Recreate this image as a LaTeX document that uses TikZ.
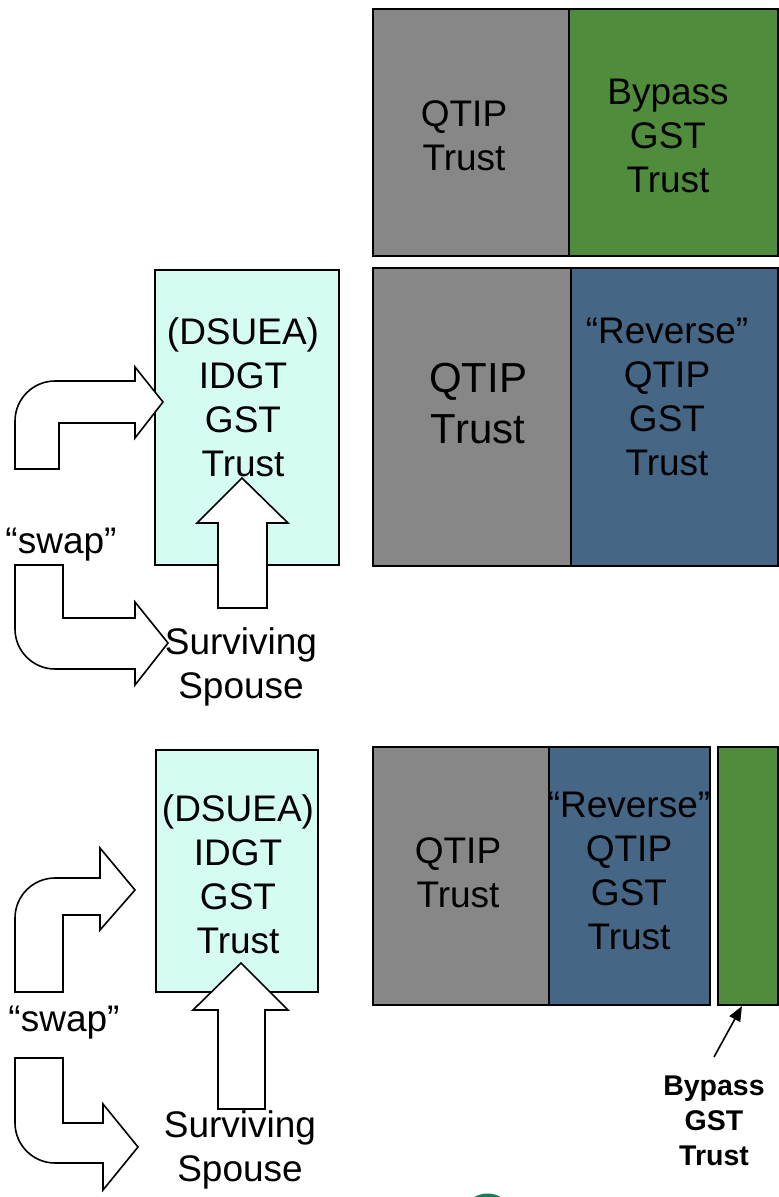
\documentclass[tikz,border=0pt]{standalone}
\usepackage{fontspec}
\setmainfont{Liberation Sans}
\usetikzlibrary{arrows.meta}
\definecolor{qgray}{HTML}{878787}
\definecolor{bgreen}{HTML}{4F8D3C}
\definecolor{rblue}{HTML}{466686}
\definecolor{mint}{HTML}{D4FCF2}
\definecolor{logogreen}{HTML}{1E7A5A}
\begin{document}
\begin{tikzpicture}[x=1pt,y=-1pt,
  box/.style={draw=black,line width=1.6pt,rectangle,inner sep=0pt},
  blockarrow/.style={draw=black,line width=1.6pt,fill=white,line join=miter},
  lbl/.style={inner sep=0pt,align=center,font=\fontsize{37}{44}\selectfont},
  biglbl/.style={inner sep=0pt,align=center,font=\fontsize{42}{51}\selectfont},
  smalllbl/.style={inner sep=0pt,align=center,font=\fontsize{28.5}{35}\selectfont\bfseries}]
\useasboundingbox (0,0) rectangle (779,1197);
% ---------- top row
\node[box,fill=qgray,minimum width=196pt,minimum height=247pt] (q1) at (471,132.5) {};
\node[box,fill=bgreen,minimum width=209pt,minimum height=247pt] (b1) at (673.5,132.5) {};
\node[lbl] (q1t) at (464,136) {QTIP\\Trust};
\node[lbl] (b1t) at (668,136) {Bypass\\GST\\Trust};
% ---------- second row
\node[box,fill=qgray,minimum width=198pt,minimum height=298pt] (q2) at (472,417) {};
\node[box,fill=rblue,minimum width=207pt,minimum height=298pt] (r2) at (674.5,417) {};
\node[biglbl] (q2t) at (478,404) {QTIP\\Trust};
\node[lbl] (r2t) at (667,397) {“Reverse”\\QTIP\\GST\\Trust};
% ---------- group 1
\node[box,fill=mint,minimum width=184pt,minimum height=295pt] (c1) at (247,417.5) {};
\draw[blockarrow] (15,469) -- (15,421) .. controls (15,399) and (33,381) .. (55,381)
  -- (135,381) -- (135,367) -- (163,402) -- (135,438) -- (135,423) -- (59,423) -- (59,469) -- cycle;
\draw[blockarrow] (15,565) -- (63,565) -- (63,618) -- (135,618) -- (135,602) -- (168,643)
  -- (135,685) -- (135,669) -- (55,669) .. controls (33,669) and (15,651) .. (15,629) -- cycle;
\draw[blockarrow] (218,608) -- (218,523) -- (197,523) -- (242,478) -- (288,523) -- (267,523) -- (267,608) -- cycle;
\node[lbl] (c1t) at (243,397) {(DSUEA)\\IDGT\\GST\\Trust};
\node[lbl] (sw1) at (61,545) {“swap”};
\node[lbl] (sp1) at (241,667) {Surviving\\Spouse};
% ---------- bottom row
\node[box,fill=qgray,minimum width=176pt,minimum height=258pt] (q3) at (461,876) {};
\node[box,fill=rblue,minimum width=161pt,minimum height=258pt] (r3) at (629.5,876) {};
\node[box,fill=bgreen,minimum width=60pt,minimum height=258pt] (g3) at (748,876) {};
\node[lbl] (q3t) at (458,873) {QTIP\\Trust};
\node[lbl] (r3t) at (629,871) {“Reverse”\\QTIP\\GST\\Trust};
\node[smalllbl] (g3t) at (714,1121) {Bypass\\GST\\Trust};
\coordinate (g3tip) at (742,1006);
\coordinate (g3tail) at (714,1057);
\draw[line width=1.6pt,-{Triangle[length=15pt,width=12pt]}] (g3tail) -- (g3tip);
% ---------- group 2
\node[box,fill=mint,minimum width=162pt,minimum height=242pt] (c2) at (237,871) {};
\draw[blockarrow] (15,992) -- (15,918) .. controls (15,896) and (33,878) .. (55,878)
  -- (100,878) -- (100,848) -- (135,890) -- (100,930) -- (100,915) -- (63,915) -- (63,992) -- cycle;
\draw[blockarrow] (15,1058) -- (63,1058) -- (63,1123) -- (103,1123) -- (103,1104) -- (138,1147)
  -- (103,1190) -- (103,1163) -- (55,1163) .. controls (33,1163) and (15,1145) .. (15,1123) -- cycle;
\draw[blockarrow] (218,1109) -- (218,1010) -- (193,1010) -- (241,963) -- (288,1010) -- (265,1010) -- (265,1109) -- cycle;
\node[lbl] (c2t) at (238,874.5) {(DSUEA)\\IDGT\\GST\\Trust};
\node[lbl] (sw2) at (64,1023) {“swap”};
\node[lbl] (sp2) at (240,1150) {Surviving\\Spouse};
% ---------- logo fragment
\fill[logogreen] (473,1198) .. controls (481,1192) and (494,1192) .. (502,1198) -- cycle;
\end{tikzpicture}
\end{document}
